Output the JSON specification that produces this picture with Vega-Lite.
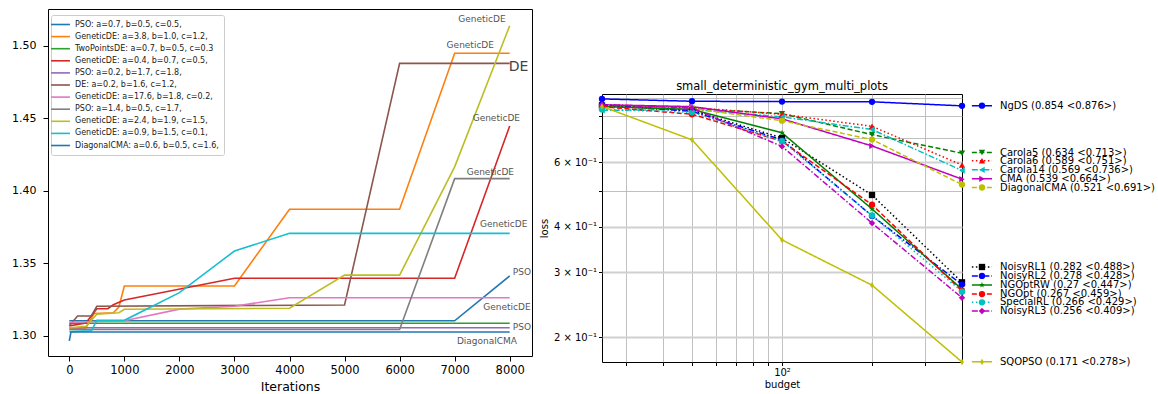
{
  "$schema": "https://vega.github.io/schema/vega-lite/v6.json",
  "padding": {"left": 11, "top": 8, "right": 0, "bottom": 0},
  "autosize": {"type": "pad"},
  "background": "white",
  "config": {
    "font": "DejaVu Sans",
    "view": {"stroke": "#000000", "strokeWidth": 1},
    "axis": {"domain": false, "tickColor": "#000000", "labelColor": "#000000", "titleColor": "#000000", "titleFontWeight": "normal", "labelFont": "DejaVu Sans", "titleFont": "DejaVu Sans"}
  },
  "datasets": {
    "left": [
      {"run": "PSO: a=0.7, b=0.5, c=0.5,", "it": 0, "v": 1.3105},
      {"run": "PSO: a=0.7, b=0.5, c=0.5,", "it": 7000, "v": 1.3105},
      {"run": "PSO: a=0.7, b=0.5, c=0.5,", "it": 8000, "v": 1.3414},
      {"run": "GeneticDE: a=3.8, b=1.0, c=1.2,", "it": 0, "v": 1.305},
      {"run": "GeneticDE: a=3.8, b=1.0, c=1.2,", "it": 300, "v": 1.3055},
      {"run": "GeneticDE: a=3.8, b=1.0, c=1.2,", "it": 450, "v": 1.3155},
      {"run": "GeneticDE: a=3.8, b=1.0, c=1.2,", "it": 800, "v": 1.316},
      {"run": "GeneticDE: a=3.8, b=1.0, c=1.2,", "it": 900, "v": 1.32},
      {"run": "GeneticDE: a=3.8, b=1.0, c=1.2,", "it": 1000, "v": 1.3345},
      {"run": "GeneticDE: a=3.8, b=1.0, c=1.2,", "it": 3000, "v": 1.3345},
      {"run": "GeneticDE: a=3.8, b=1.0, c=1.2,", "it": 4000, "v": 1.3874},
      {"run": "GeneticDE: a=3.8, b=1.0, c=1.2,", "it": 6000, "v": 1.3874},
      {"run": "GeneticDE: a=3.8, b=1.0, c=1.2,", "it": 7000, "v": 1.495},
      {"run": "GeneticDE: a=3.8, b=1.0, c=1.2,", "it": 8000, "v": 1.495},
      {"run": "TwoPointsDE: a=0.7, b=0.5, c=0.3", "it": 0, "v": 1.3088},
      {"run": "TwoPointsDE: a=0.7, b=0.5, c=0.3", "it": 8000, "v": 1.3088},
      {"run": "GeneticDE: a=0.4, b=0.7, c=0.5,", "it": 0, "v": 1.307},
      {"run": "GeneticDE: a=0.4, b=0.7, c=0.5,", "it": 300, "v": 1.309},
      {"run": "GeneticDE: a=0.4, b=0.7, c=0.5,", "it": 500, "v": 1.3188},
      {"run": "GeneticDE: a=0.4, b=0.7, c=0.5,", "it": 700, "v": 1.3188},
      {"run": "GeneticDE: a=0.4, b=0.7, c=0.5,", "it": 800, "v": 1.3215},
      {"run": "GeneticDE: a=0.4, b=0.7, c=0.5,", "it": 1000, "v": 1.3248},
      {"run": "GeneticDE: a=0.4, b=0.7, c=0.5,", "it": 3000, "v": 1.3398},
      {"run": "GeneticDE: a=0.4, b=0.7, c=0.5,", "it": 7000, "v": 1.3398},
      {"run": "GeneticDE: a=0.4, b=0.7, c=0.5,", "it": 8000, "v": 1.4448},
      {"run": "PSO: a=0.2, b=1.7, c=1.8,", "it": 0, "v": 1.3057},
      {"run": "PSO: a=0.2, b=1.7, c=1.8,", "it": 8000, "v": 1.3057},
      {"run": "DE: a=0.2, b=1.6, c=1.2,", "it": 0, "v": 1.307},
      {"run": "DE: a=0.2, b=1.6, c=1.2,", "it": 150, "v": 1.3138},
      {"run": "DE: a=0.2, b=1.6, c=1.2,", "it": 400, "v": 1.3138},
      {"run": "DE: a=0.2, b=1.6, c=1.2,", "it": 500, "v": 1.3205},
      {"run": "DE: a=0.2, b=1.6, c=1.2,", "it": 5000, "v": 1.3214},
      {"run": "DE: a=0.2, b=1.6, c=1.2,", "it": 6000, "v": 1.488},
      {"run": "DE: a=0.2, b=1.6, c=1.2,", "it": 8000, "v": 1.488},
      {"run": "GeneticDE: a=17.6, b=1.8, c=0.2,", "it": 0, "v": 1.3095},
      {"run": "GeneticDE: a=17.6, b=1.8, c=0.2,", "it": 1000, "v": 1.3105},
      {"run": "GeneticDE: a=17.6, b=1.8, c=0.2,", "it": 2000, "v": 1.3185},
      {"run": "GeneticDE: a=17.6, b=1.8, c=0.2,", "it": 3000, "v": 1.3205},
      {"run": "GeneticDE: a=17.6, b=1.8, c=0.2,", "it": 4000, "v": 1.3264},
      {"run": "GeneticDE: a=17.6, b=1.8, c=0.2,", "it": 8000, "v": 1.3264},
      {"run": "PSO: a=1.4, b=0.5, c=1.7,", "it": 0, "v": 1.3045},
      {"run": "PSO: a=1.4, b=0.5, c=1.7,", "it": 6000, "v": 1.3045},
      {"run": "PSO: a=1.4, b=0.5, c=1.7,", "it": 7000, "v": 1.4085},
      {"run": "PSO: a=1.4, b=0.5, c=1.7,", "it": 8000, "v": 1.4085},
      {"run": "GeneticDE: a=2.4, b=1.9, c=1.5,", "it": 0, "v": 1.3057},
      {"run": "GeneticDE: a=2.4, b=1.9, c=1.5,", "it": 300, "v": 1.3066},
      {"run": "GeneticDE: a=2.4, b=1.9, c=1.5,", "it": 500, "v": 1.315},
      {"run": "GeneticDE: a=2.4, b=1.9, c=1.5,", "it": 900, "v": 1.316},
      {"run": "GeneticDE: a=2.4, b=1.9, c=1.5,", "it": 1000, "v": 1.3184},
      {"run": "GeneticDE: a=2.4, b=1.9, c=1.5,", "it": 4000, "v": 1.3191},
      {"run": "GeneticDE: a=2.4, b=1.9, c=1.5,", "it": 5000, "v": 1.342},
      {"run": "GeneticDE: a=2.4, b=1.9, c=1.5,", "it": 6000, "v": 1.342},
      {"run": "GeneticDE: a=2.4, b=1.9, c=1.5,", "it": 7000, "v": 1.4166},
      {"run": "GeneticDE: a=2.4, b=1.9, c=1.5,", "it": 8000, "v": 1.514},
      {"run": "GeneticDE: a=0.9, b=1.5, c=0.1,", "it": 0, "v": 1.303},
      {"run": "GeneticDE: a=0.9, b=1.5, c=0.1,", "it": 400, "v": 1.3035},
      {"run": "GeneticDE: a=0.9, b=1.5, c=0.1,", "it": 500, "v": 1.3108},
      {"run": "GeneticDE: a=0.9, b=1.5, c=0.1,", "it": 1000, "v": 1.3108},
      {"run": "GeneticDE: a=0.9, b=1.5, c=0.1,", "it": 2000, "v": 1.3299},
      {"run": "GeneticDE: a=0.9, b=1.5, c=0.1,", "it": 3000, "v": 1.3586},
      {"run": "GeneticDE: a=0.9, b=1.5, c=0.1,", "it": 4000, "v": 1.3708},
      {"run": "GeneticDE: a=0.9, b=1.5, c=0.1,", "it": 8000, "v": 1.3708},
      {"run": "DiagonalCMA: a=0.6, b=0.5, c=1.6,", "it": 0, "v": 1.2966},
      {"run": "DiagonalCMA: a=0.6, b=0.5, c=1.6,", "it": 30, "v": 1.3028},
      {"run": "DiagonalCMA: a=0.6, b=0.5, c=1.6,", "it": 8000, "v": 1.3028}
    ],
    "notes": [
      {"t": "GeneticDE", "it": 7497, "v": 1.5184},
      {"t": "GeneticDE", "it": 7284, "v": 1.5005},
      {"t": "DE", "it": 8162, "v": 1.4857},
      {"t": "GeneticDE", "it": 7757, "v": 1.4501},
      {"t": "GeneticDE", "it": 7648, "v": 1.4131},
      {"t": "GeneticDE", "it": 7890, "v": 1.377},
      {"t": "PSO", "it": 8223, "v": 1.3441},
      {"t": "GeneticDE", "it": 7951, "v": 1.32},
      {"t": "PSO", "it": 8223, "v": 1.3062},
      {"t": "DiagonalCMA", "it": 7587, "v": 1.2966}
    ],
    "right": [
      {"method": "NgDS", "budget": 25, "loss": 0.892},
      {"method": "NgDS", "budget": 50, "loss": 0.879},
      {"method": "NgDS", "budget": 100, "loss": 0.877},
      {"method": "NgDS", "budget": 200, "loss": 0.876},
      {"method": "NgDS", "budget": 400, "loss": 0.854},
      {"method": "Carola5", "budget": 25, "loss": 0.855},
      {"method": "Carola5", "budget": 50, "loss": 0.84},
      {"method": "Carola5", "budget": 100, "loss": 0.813},
      {"method": "Carola5", "budget": 200, "loss": 0.713},
      {"method": "Carola5", "budget": 400, "loss": 0.634},
      {"method": "Carola6", "budget": 25, "loss": 0.86},
      {"method": "Carola6", "budget": 50, "loss": 0.845},
      {"method": "Carola6", "budget": 100, "loss": 0.81},
      {"method": "Carola6", "budget": 200, "loss": 0.751},
      {"method": "Carola6", "budget": 400, "loss": 0.589},
      {"method": "Carola14", "budget": 25, "loss": 0.83},
      {"method": "Carola14", "budget": 50, "loss": 0.835},
      {"method": "Carola14", "budget": 100, "loss": 0.797},
      {"method": "Carola14", "budget": 200, "loss": 0.736},
      {"method": "Carola14", "budget": 400, "loss": 0.569},
      {"method": "CMA", "budget": 25, "loss": 0.86},
      {"method": "CMA", "budget": 50, "loss": 0.85},
      {"method": "CMA", "budget": 100, "loss": 0.787},
      {"method": "CMA", "budget": 200, "loss": 0.664},
      {"method": "CMA", "budget": 400, "loss": 0.539},
      {"method": "DiagonalCMA", "budget": 25, "loss": 0.85},
      {"method": "DiagonalCMA", "budget": 50, "loss": 0.84},
      {"method": "DiagonalCMA", "budget": 100, "loss": 0.778},
      {"method": "DiagonalCMA", "budget": 200, "loss": 0.691},
      {"method": "DiagonalCMA", "budget": 400, "loss": 0.521},
      {"method": "NoisyRL1", "budget": 25, "loss": 0.855},
      {"method": "NoisyRL1", "budget": 50, "loss": 0.83},
      {"method": "NoisyRL1", "budget": 100, "loss": 0.698},
      {"method": "NoisyRL1", "budget": 200, "loss": 0.488},
      {"method": "NoisyRL1", "budget": 400, "loss": 0.282},
      {"method": "NoisyRL2", "budget": 25, "loss": 0.86},
      {"method": "NoisyRL2", "budget": 50, "loss": 0.825},
      {"method": "NoisyRL2", "budget": 100, "loss": 0.69},
      {"method": "NoisyRL2", "budget": 200, "loss": 0.428},
      {"method": "NoisyRL2", "budget": 400, "loss": 0.278},
      {"method": "NGOptRW", "budget": 25, "loss": 0.85},
      {"method": "NGOptRW", "budget": 50, "loss": 0.835},
      {"method": "NGOptRW", "budget": 100, "loss": 0.721},
      {"method": "NGOptRW", "budget": 200, "loss": 0.447},
      {"method": "NGOptRW", "budget": 400, "loss": 0.27},
      {"method": "NGOpt", "budget": 25, "loss": 0.85},
      {"method": "NGOpt", "budget": 50, "loss": 0.81},
      {"method": "NGOpt", "budget": 100, "loss": 0.684},
      {"method": "NGOpt", "budget": 200, "loss": 0.459},
      {"method": "NGOpt", "budget": 400, "loss": 0.267},
      {"method": "SpecialRL", "budget": 25, "loss": 0.835},
      {"method": "SpecialRL", "budget": 50, "loss": 0.82},
      {"method": "SpecialRL", "budget": 100, "loss": 0.684},
      {"method": "SpecialRL", "budget": 200, "loss": 0.429},
      {"method": "SpecialRL", "budget": 400, "loss": 0.266},
      {"method": "NoisyRL3", "budget": 25, "loss": 0.86},
      {"method": "NoisyRL3", "budget": 50, "loss": 0.842},
      {"method": "NoisyRL3", "budget": 100, "loss": 0.662},
      {"method": "NoisyRL3", "budget": 200, "loss": 0.409},
      {"method": "NoisyRL3", "budget": 400, "loss": 0.256},
      {"method": "SQOPSO", "budget": 25, "loss": 0.851},
      {"method": "SQOPSO", "budget": 50, "loss": 0.69},
      {"method": "SQOPSO", "budget": 100, "loss": 0.368},
      {"method": "SQOPSO", "budget": 200, "loss": 0.277},
      {"method": "SQOPSO", "budget": 400, "loss": 0.171}
    ],
    "rlegend": [
      {"method": "NgDS", "label": "NgDS (0.854 <0.876>)", "ly": 0.855},
      {"method": "Carola5", "label": "Carola5 (0.634 <0.713>)", "ly": 0.637},
      {"method": "Carola6", "label": "Carola6 (0.589 <0.751>)", "ly": 0.605},
      {"method": "Carola14", "label": "Carola14 (0.569 <0.736>)", "ly": 0.5716},
      {"method": "CMA", "label": "CMA (0.539 <0.664>)", "ly": 0.54},
      {"method": "DiagonalCMA", "label": "DiagonalCMA (0.521 <0.691>)", "ly": 0.5114},
      {"method": "NoisyRL1", "label": "NoisyRL1 (0.282 <0.488>)", "ly": 0.3105},
      {"method": "NoisyRL2", "label": "NoisyRL2 (0.278 <0.428>)", "ly": 0.2935},
      {"method": "NGOptRW", "label": "NGOptRW (0.27 <0.447>)", "ly": 0.2773},
      {"method": "NGOpt", "label": "NGOpt (0.267 <0.459>)", "ly": 0.262},
      {"method": "SpecialRL", "label": "SpecialRL (0.266 <0.429>)", "ly": 0.2487},
      {"method": "NoisyRL3", "label": "NoisyRL3 (0.256 <0.409>)", "ly": 0.2355},
      {"method": "SQOPSO", "label": "SQOPSO (0.171 <0.278>)", "ly": 0.1712}
    ]
  },
  "hconcat": [
    {
      "width": 484,
      "height": 347,
      "layer": [
        {
          "data": {"name": "left"},
          "mark": {"type": "line", "strokeWidth": 1.6},
          "encoding": {
            "x": {"field": "it", "type": "quantitative", "scale": {"domain": [-387, 8405], "nice": false, "zero": false},
              "axis": {"values": [0, 1000, 2000, 3000, 4000, 5000, 6000, 7000, 8000], "format": "d", "grid": false, "labelFontSize": 11.5, "tickSize": 5, "labelPadding": 3, "title": "Iterations", "titleFontSize": 12.5, "titlePadding": 5}},
            "y": {"field": "v", "type": "quantitative", "scale": {"domain": [1.2862, 1.5255], "nice": false, "zero": false},
              "axis": {"values": [1.3, 1.35, 1.4, 1.45, 1.5], "format": ".2f", "grid": false, "labelFontSize": 11, "tickSize": 5, "labelPadding": 7, "title": null}},
            "color": {"field": "run", "type": "nominal",
              "scale": {
                "domain": ["PSO: a=0.7, b=0.5, c=0.5,", "GeneticDE: a=3.8, b=1.0, c=1.2,", "TwoPointsDE: a=0.7, b=0.5, c=0.3", "GeneticDE: a=0.4, b=0.7, c=0.5,", "PSO: a=0.2, b=1.7, c=1.8,", "DE: a=0.2, b=1.6, c=1.2,", "GeneticDE: a=17.6, b=1.8, c=0.2,", "PSO: a=1.4, b=0.5, c=1.7,", "GeneticDE: a=2.4, b=1.9, c=1.5,", "GeneticDE: a=0.9, b=1.5, c=0.1,", "DiagonalCMA: a=0.6, b=0.5, c=1.6,"],
                "range": ["#1f77b4", "#ff7f0e", "#2ca02c", "#d62728", "#9467bd", "#8c564b", "#e377c2", "#7f7f7f", "#bcbd22", "#17becf", "#1f77b4"]
              },
              "legend": {"orient": "none", "legendX": 3, "legendY": 6, "title": null, "symbolType": "M-2.7,0H2.7", "symbolSize": 49, "symbolStrokeWidth": 1.6, "labelFontSize": 8, "labelColor": "#222222", "rowPadding": 3.1, "padding": 5, "fillColor": "white", "strokeColor": "#cccccc", "cornerRadius": 2, "labelLimit": 400, "labelOffset": 10}
            }
          }
        },
        {
          "data": {"name": "notes"},
          "transform": [{"filter": "datum.t !== 'DE'"}],
          "mark": {"type": "text", "fontSize": 9, "color": "#555555", "align": "center", "baseline": "middle"},
          "encoding": {
            "x": {"field": "it", "type": "quantitative"},
            "y": {"field": "v", "type": "quantitative"},
            "text": {"field": "t"}
          }
        },
        {
          "data": {"name": "notes"},
          "transform": [{"filter": "datum.t === 'DE'"}],
          "mark": {"type": "text", "fontSize": 14, "color": "#444444", "align": "center", "baseline": "middle"},
          "encoding": {
            "x": {"field": "it", "type": "quantitative"},
            "y": {"field": "v", "type": "quantitative"},
            "text": {"field": "t"}
          }
        }
      ]
    },
    {
      "spacing": 0,
      "vconcat": [
        {
          "width": 360,
          "height": 71,
          "data": {"values": []},
          "mark": {"type": "text"},
          "encoding": {},
          "view": {"stroke": null}
        },
        {
          "width": 360,
          "height": 268,
          "title": {"text": "small_deterministic_gym_multi_plots", "fontSize": 11.5, "fontWeight": "normal", "color": "#000000", "font": "DejaVu Sans", "offset": 2},
          "layer": [
            {
              "data": {"name": "right"},
              "mark": {"type": "line", "strokeWidth": 1.5},
              "encoding": {
                "x": {"field": "budget", "type": "quantitative", "scale": {"type": "log", "domain": [25, 400], "nice": false},
                  "axis": {"values": [30, 40, 50, 60, 70, 80, 90, 100, 200, 300], "labelExpr": "datum.value == 100 ? '10²' : ''", "grid": true, "gridColor": "#b0b0b0", "gridWidth": 0.8, "tickSize": 3.5, "labelPadding": 2, "labelFontSize": 10, "title": "budget", "titleFontSize": 10, "titlePadding": 2}},
                "y": {"field": "loss", "type": "quantitative", "scale": {"type": "log", "domain": [0.171, 0.92], "nice": false},
                  "axis": {"values": [0.2, 0.3, 0.4, 0.5, 0.6, 0.7, 0.8, 0.9], "labelExpr": "(datum.value == 0.2 || datum.value == 0.3 || datum.value == 0.4 || datum.value == 0.6) ? (round(datum.value * 10) + ' × 10⁻¹') : ''", "grid": true,
                    "gridColor": {"condition": {"test": "datum.value == 0.2 || datum.value == 0.3 || datum.value == 0.4 || datum.value == 0.6", "value": "#d0d0d0"}, "value": "#b0b0b0"},
                    "gridWidth": {"condition": {"test": "datum.value == 0.2 || datum.value == 0.3 || datum.value == 0.4 || datum.value == 0.6", "value": 1.8}, "value": 0.8},
                    "tickSize": 3.5, "labelPadding": 2, "labelFontSize": 10, "title": "loss", "titleFontSize": 10, "titlePadding": 4}},
                "color": {"field": "method", "type": "nominal",
                  "scale": {"domain": ["NgDS", "Carola5", "Carola6", "Carola14", "CMA", "DiagonalCMA", "NoisyRL1", "NoisyRL2", "NGOptRW", "NGOpt", "SpecialRL", "NoisyRL3", "SQOPSO"],
                    "range": ["#0000ff", "#008000", "#ff0000", "#00bfbf", "#bf00bf", "#bfbf00", "#000000", "#0000ff", "#008000", "#ff0000", "#00bfbf", "#bf00bf", "#bfbf00"]},
                  "legend": null},
                "strokeDash": {"field": "method", "type": "nominal",
                  "scale": {"domain": ["NgDS", "Carola5", "Carola6", "Carola14", "CMA", "DiagonalCMA", "NoisyRL1", "NoisyRL2", "NGOptRW", "NGOpt", "SpecialRL", "NoisyRL3", "SQOPSO"],
                    "range": [[1, 0], [5, 2.5], [1.5, 2.5], [6, 2, 1.5, 2], [1, 0], [5, 2.5], [1.5, 2.5], [6, 2, 1.5, 2], [1, 0], [5, 2.5], [1.5, 2.5], [6, 2, 1.5, 2], [1, 0]]},
                  "legend": null}
              }
            },
            {
              "data": {"name": "right"},
              "mark": {"type": "point", "filled": true, "opacity": 1, "size": 40},
              "encoding": {
                "x": {"field": "budget", "type": "quantitative"},
                "y": {"field": "loss", "type": "quantitative"},
                "color": {"field": "method", "type": "nominal", "legend": null},
                "shape": {"field": "method", "type": "nominal",
                  "scale": {"domain": ["NgDS", "Carola5", "Carola6", "Carola14", "CMA", "DiagonalCMA", "NoisyRL1", "NoisyRL2", "NGOptRW", "NGOpt", "SpecialRL", "NoisyRL3", "SQOPSO"],
                    "range": ["circle", "triangle-down", "triangle-up", "triangle-left", "triangle-right", "circle", "square", "circle", "M0,-1L0.2245,-0.309L0.951,-0.309L0.363,0.118L0.588,0.809L0,0.382L-0.588,0.809L-0.363,0.118L-0.951,-0.309L-0.2245,-0.309Z", "circle", "circle", "diamond", "M0,-1L0.6,0L0,1L-0.6,0Z"]},
                  "legend": null}
              }
            },
            {
              "data": {"name": "rlegend"},
              "mark": {"type": "rule", "strokeWidth": 1.5},
              "encoding": {
                "x": {"datum": 431.6, "type": "quantitative"},
                "x2": {"datum": 504},
                "y": {"field": "ly", "type": "quantitative"},
                "color": {"field": "method", "type": "nominal", "legend": null},
                "strokeDash": {"field": "method", "type": "nominal", "legend": null}
              }
            },
            {
              "data": {"name": "rlegend"},
              "mark": {"type": "point", "filled": true, "opacity": 1, "size": 40},
              "encoding": {
                "x": {"datum": 466.5, "type": "quantitative"},
                "y": {"field": "ly", "type": "quantitative"},
                "color": {"field": "method", "type": "nominal", "legend": null},
                "shape": {"field": "method", "type": "nominal", "legend": null}
              }
            },
            {
              "data": {"name": "rlegend"},
              "mark": {"type": "text", "align": "left", "baseline": "middle", "fontSize": 10, "color": "#000000"},
              "encoding": {
                "x": {"datum": 536, "type": "quantitative"},
                "y": {"field": "ly", "type": "quantitative"},
                "text": {"field": "label"}
              }
            }
          ]
        }
      ]
    }
  ],
  "spacing": 5,
  "resolve": {"scale": {"x": "independent", "y": "independent", "color": "independent", "strokeDash": "independent", "shape": "independent"}}
}
